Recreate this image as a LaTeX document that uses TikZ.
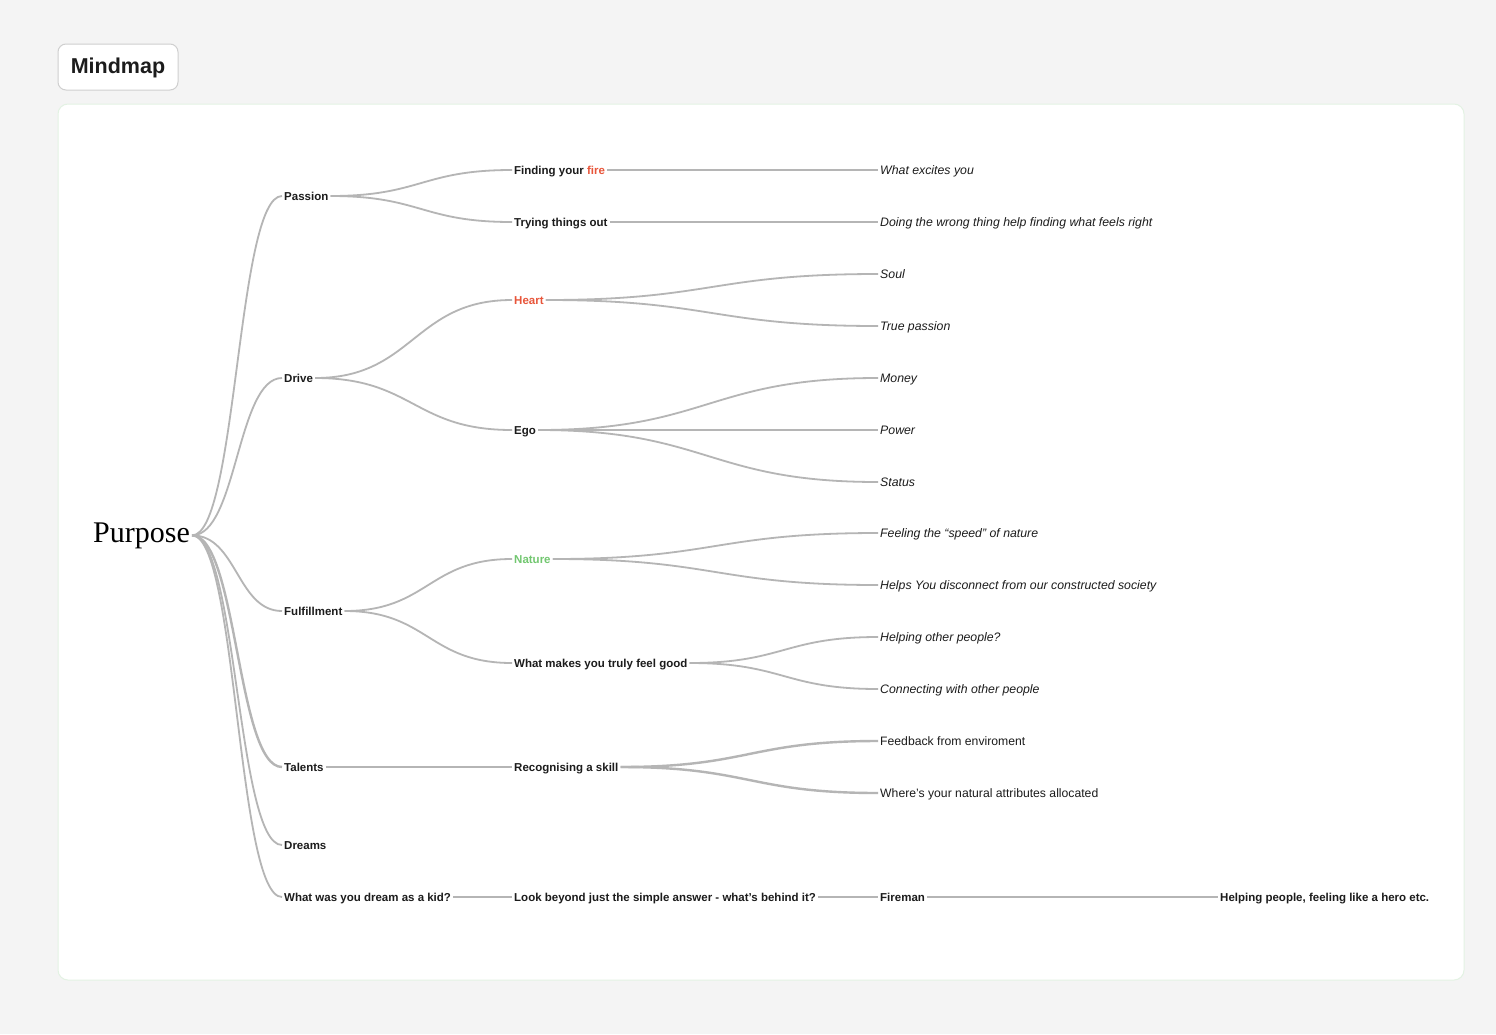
\documentclass[tikz,border=0pt]{standalone}
\usepackage{fontspec}
\usetikzlibrary{calc}
\newfontfamily\lsans{Liberation Sans}
\newfontfamily\lserif{Liberation Serif}
\definecolor{bgc}{HTML}{F4F4F4}
\definecolor{cardline}{HTML}{E3F2E3}
\definecolor{titleline}{HTML}{CFCFCF}
\definecolor{linec}{HTML}{B5B5B5}
\definecolor{txt}{HTML}{1C1C1C}
\definecolor{hot}{HTML}{E8553A}
\definecolor{leaf}{HTML}{72C770}
\newcommand\lnk[3][]{\draw[conn,#1] let \p1=(#2.east), \p2=(#3.west) in (\p1) .. controls ({(\x1+\x2)/2},\y1) and ({(\x1+\x2)/2},\y2) .. (\p2);}
\begin{document}
\begin{tikzpicture}[x=1pt,y=-1pt,
  conn/.style={draw=linec,line width=1.8pt},
  lbl/.style={anchor=west,inner xsep=2pt,inner ysep=0pt,text height=8pt,text depth=0pt,text=txt},
  bl/.style={lbl,font=\lsans\bfseries\fontsize{11.5}{13}\selectfont},
  it/.style={lbl,font=\lsans\itshape\fontsize{12.3}{14}\selectfont},
  rg/.style={lbl,font=\lsans\fontsize{12.2}{14}\selectfont}]
\useasboundingbox (0,0) rectangle (1496,1034);
\fill[bgc] (0,0) rectangle (1496,1034);
\node[draw=titleline,line width=1pt,fill=white,rounded corners=8pt,minimum width=120pt,minimum height=46pt,text height=16pt,text depth=4pt,font=\lsans\bfseries\fontsize{21.5}{24}\selectfont,text=txt] (title) at (118,67) {Mindmap};
\draw[cardline,fill=white,line width=1pt,rounded corners=10pt] (58,104) rectangle (1464,980);
% root
\node[anchor=base west,inner xsep=2pt,inner ysep=0pt,font=\lserif\fontsize{30}{34}\selectfont,text=black] (root) at (91,542) {Purpose};
% level 1
\node[bl] (passion) at (282,196) {Passion};
\node[bl] (drive) at (282,378) {Drive};
\node[bl] (fulfil) at (282,611) {Fulfillment};
\node[bl] (talents) at (282,767) {Talents};
\node[bl] (dreams) at (282,845) {Dreams};
\node[bl] (kid) at (282,897) {What was you dream as a kid?};
% level 2
\node[bl] (fire) at (512,170) {Finding your \textcolor{hot}{fire}};
\node[bl] (trying) at (512,222) {Trying things out};
\node[bl,text=hot] (heart) at (512,300) {Heart};
\node[bl] (ego) at (512,430) {Ego};
\node[bl,text=leaf] (nature) at (512,559) {Nature};
\node[bl] (feelgood) at (512,663) {What makes you truly feel good};
\node[bl] (skill) at (512,767) {Recognising a skill};
\node[bl] (beyond) at (512,897) {Look beyond just the simple answer - what’s behind it?};
% level 3
\node[it] (excites) at (878,170) {What excites you};
\node[it] (wrong) at (878,222) {Doing the wrong thing help finding what feels right};
\node[it] (soul) at (878,274) {Soul};
\node[it] (truep) at (878,326) {True passion};
\node[it] (money) at (878,378) {Money};
\node[it] (power) at (878,430) {Power};
\node[it] (status) at (878,482) {Status};
\node[it] (speed) at (878,533) {Feeling the “speed” of nature};
\node[it] (disc) at (878,585) {Helps You disconnect from our constructed society};
\node[it] (helpo) at (878,637) {Helping other people?};
\node[it] (connect) at (878,689) {Connecting with other people};
\node[rg] (feedback) at (878,741) {Feedback from enviroment};
\node[rg] (attrib) at (878,793) {Where’s your natural attributes allocated};
\node[bl] (fireman) at (878,897) {Fireman};
% level 4
\node[bl] (hero) at (1218,897) {Helping people, feeling like a hero etc.};
% connectors
\lnk{root}{passion}
\lnk{root}{drive}
\lnk{root}{fulfil}
\lnk[line width=2.4pt]{root}{talents}
\lnk{root}{dreams}
\lnk{root}{kid}
\lnk{passion}{fire}
\lnk{passion}{trying}
\lnk{drive}{heart}
\lnk{drive}{ego}
\lnk{fulfil}{nature}
\lnk{fulfil}{feelgood}
\lnk[line width=2.4pt]{talents}{skill}
\lnk{kid}{beyond}
\lnk{fire}{excites}
\lnk{trying}{wrong}
\lnk{heart}{soul}
\lnk{heart}{truep}
\lnk{ego}{money}
\lnk{ego}{power}
\lnk{ego}{status}
\lnk{nature}{speed}
\lnk{nature}{disc}
\lnk{feelgood}{helpo}
\lnk{feelgood}{connect}
\lnk[line width=2.4pt]{skill}{feedback}
\lnk[line width=2.4pt]{skill}{attrib}
\lnk{beyond}{fireman}
\lnk{fireman}{hero}
\end{tikzpicture}
\end{document}
